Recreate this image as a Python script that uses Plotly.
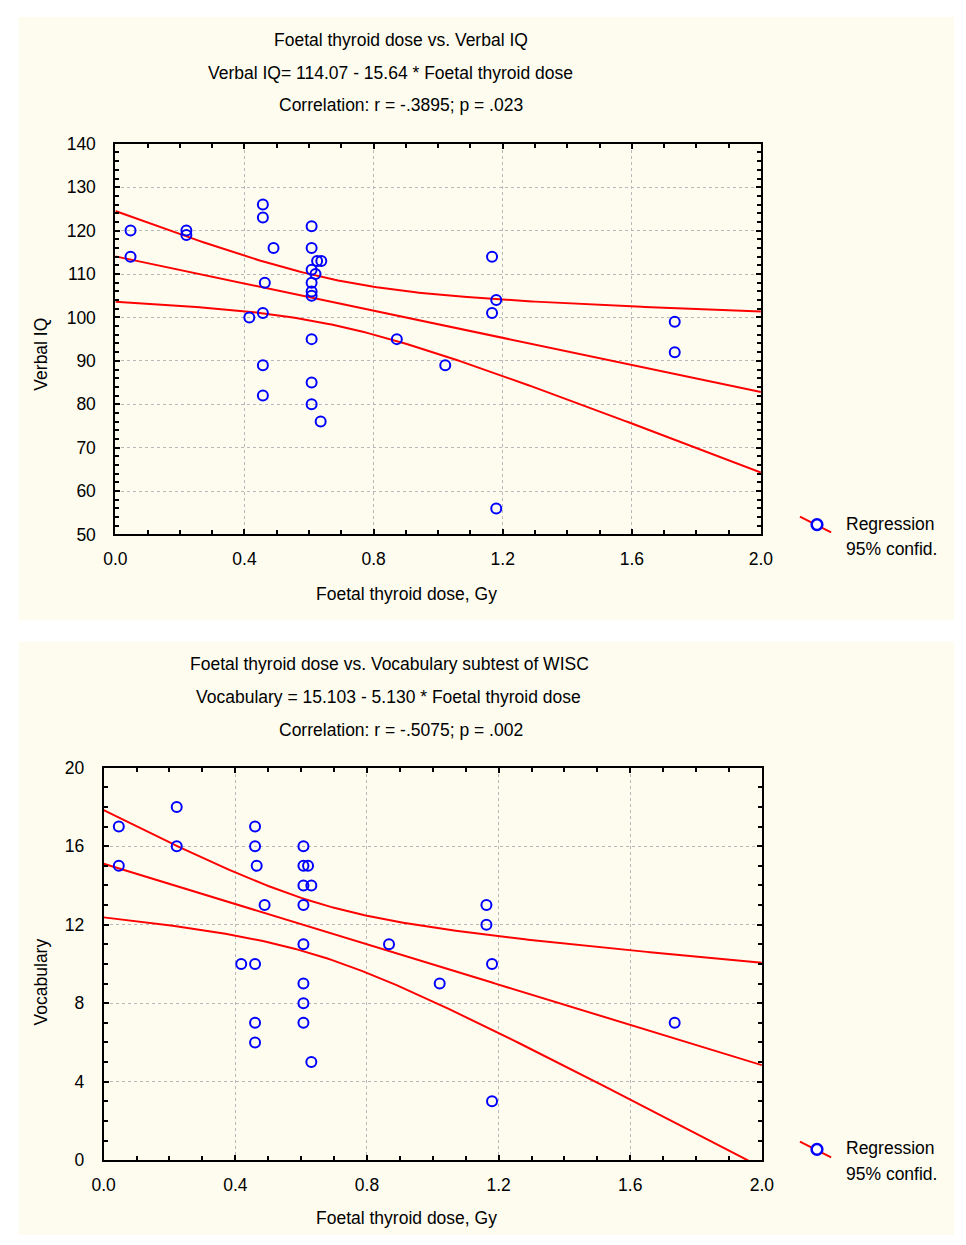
import numpy as np
import plotly.graph_objects as go

# ---------------- data ----------------
dose_iq = [0.047, 0.047, 0.22, 0.22, 0.457, 0.457, 0.49, 0.608, 0.608, 0.625, 0.638,
           0.608, 0.62, 0.608, 0.608, 0.608, 0.463, 0.457, 0.415, 0.608, 0.457, 0.608,
           0.457, 0.608, 0.636, 1.167, 1.18, 1.167, 0.872, 1.022, 1.733, 1.733, 1.18]
verbal_iq = [120, 114, 120, 119, 126, 123, 116, 121, 116, 113, 113,
             111, 110, 108, 106, 105, 108, 101, 100, 95, 89, 85,
             82, 80, 76, 114, 104, 101, 95, 89, 99, 92, 56]

dose_voc = [0.046, 0.046, 0.222, 0.222, 0.46, 0.46, 0.465, 0.489, 0.607, 0.607, 0.621,
            0.607, 0.631, 0.607, 0.607, 0.418, 0.46, 0.607, 0.607, 0.46, 0.607, 0.46,
            0.631, 1.163, 1.163, 1.18, 0.867, 1.021, 1.735, 1.18]
vocabulary = [17, 15, 18, 16, 17, 16, 15, 13, 16, 15, 15,
              14, 14, 13, 11, 10, 10, 9, 8, 7, 7, 6,
              5, 13, 12, 10, 11, 9, 7, 3]

iq_intercept, iq_slope = 114.07, -15.64
voc_intercept, voc_slope = 15.103, -5.130

titles_iq = ["Foetal thyroid dose vs. Verbal IQ",
             "Verbal IQ= 114.07 - 15.64 * Foetal thyroid dose",
             "Correlation: r = -.3895; p = .023"]
titles_voc = ["Foetal thyroid dose vs. Vocabulary subtest of WISC",
              "Vocabulary = 15.103 - 5.130 * Foetal thyroid dose",
              "Correlation: r = -.5075; p = .002"]
x_ticks = [0.0, 0.4, 0.8, 1.2, 1.6, 2.0]
x_ticklabels = ["0.0", "0.4", "0.8", "1.2", "1.6", "2.0"]
iq_ticks = [50, 60, 70, 80, 90, 100, 110, 120, 130, 140]
voc_ticks = [0, 4, 8, 12, 16, 20]

W, H = 966, 1245
CREAM = "#FEFCEF"
RED = "#FF0000"
BLUE = "#0000FF"
FONT = "Liberation Sans, Arial, sans-serif"
FS = 17.5


def conf_band(x, y, b0, b1, xs, tcrit=2.04):
    x = np.asarray(x, float); y = np.asarray(y, float)
    n = len(x)
    resid = y - (b0 + b1 * x)
    s = np.sqrt(np.sum(resid ** 2) / (n - 2))
    xm = x.mean(); sxx = np.sum((x - xm) ** 2)
    fit = b0 + b1 * xs
    hw = tcrit * s * np.sqrt(1.0 / n + (xs - xm) ** 2 / sxx)
    return fit, fit - hw, fit + hw


xs = np.linspace(0, 2, 201)

fig = go.Figure()

panels = [
    dict(x=dose_iq, y=verbal_iq, b=(iq_intercept, iq_slope), xa="x", ya="y"),
    dict(x=dose_voc, y=vocabulary, b=(voc_intercept, voc_slope), xa="x2", ya="y2"),
]
for p in panels:
    fit, lo, hi = conf_band(p["x"], p["y"], p["b"][0], p["b"][1], xs)
    for arr in (hi, fit, lo):
        fig.add_trace(go.Scatter(x=xs, y=arr, mode="lines", line=dict(color=RED, width=2),
                                 xaxis=p["xa"], yaxis=p["ya"], showlegend=False, hoverinfo="skip"))
    fig.add_trace(go.Scatter(x=p["x"], y=p["y"], mode="markers",
                             marker=dict(symbol="circle-open", size=10, color=BLUE,
                                         line=dict(color=BLUE, width=2)),
                             xaxis=p["xa"], yaxis=p["ya"], showlegend=False))


def px(xp):
    return xp / W


def py(yp):
    return 1 - yp / H


axis_common = dict(
    showline=True, linecolor="black", linewidth=2, mirror="ticks",
    ticks="inside", ticklen=5, tickwidth=1.5, tickcolor="black",
    showgrid=True, gridcolor="#B8B8B8", gridwidth=1, griddash="3px,3px",
    zeroline=False, tickfont=dict(family=FONT, size=FS, color="black"),
)

fig.update_layout(
    width=W, height=H, margin=dict(l=0, r=0, t=0, b=0),
    paper_bgcolor="white", plot_bgcolor="white", showlegend=False,
    font=dict(family=FONT, size=FS, color="black"),
    xaxis=dict(axis_common, domain=[px(106), px(768)], range=[0, 2], tickvals=x_ticks,
               ticktext=x_ticklabels, anchor="y", ticklabelstandoff=8,
               minor=dict(dtick=0.1, ticks="inside", ticklen=4, tickcolor="black", showgrid=False)),
    yaxis=dict(axis_common, domain=[py(533), py(136)], range=[50, 140], tickvals=iq_ticks,
               anchor="x", ticklabelstandoff=14,
               minor=dict(dtick=2, ticks="inside", ticklen=4, tickcolor="black", showgrid=False)),
    xaxis2=dict(axis_common, domain=[px(94), px(769)], range=[0, 2], tickvals=x_ticks,
                ticktext=x_ticklabels, anchor="y2", ticklabelstandoff=8,
                minor=dict(dtick=0.1, ticks="inside", ticklen=4, tickcolor="black", showgrid=False)),
    yaxis2=dict(axis_common, domain=[py(1169), py(770)], range=[0, 20], tickvals=voc_ticks,
                anchor="x2", ticklabelstandoff=14,
                minor=dict(dtick=1, ticks="inside", ticklen=4, tickcolor="black", showgrid=False)),
)

shapes = [
    dict(type="rect", xref="paper", yref="paper", x0=px(7), x1=1, y0=py(620), y1=py(7),
         fillcolor=CREAM, line=dict(width=0), layer="below"),
    dict(type="rect", xref="paper", yref="paper", x0=px(7), x1=1, y0=py(1245), y1=py(642),
         fillcolor=CREAM, line=dict(width=0), layer="below"),
]
annotations = []


def text(x, y, s, **kw):
    annotations.append(dict(xref="paper", yref="paper", x=px(x), y=py(y), text=s, showarrow=False,
                            font=dict(family=FONT, size=FS, color="black"), **kw))


for i, t in enumerate(titles_iq):
    text(399 if i != 1 else 388, [30, 64, 97][i], t, xanchor="center", yanchor="middle")
for i, t in enumerate(titles_voc):
    text([387, 386, 399][i], [665, 698, 732][i], t, xanchor="center", yanchor="middle")

text(405, 594, "Foetal thyroid dose, Gy", xanchor="center", yanchor="middle")
text(405, 1228, "Foetal thyroid dose, Gy", xanchor="center", yanchor="middle")
text(30, 350, "Verbal IQ", xanchor="center", yanchor="middle", textangle=-90)
text(30, 988, "Vocabulary", xanchor="center", yanchor="middle", textangle=-90)

# legends
for ly in (523, 1158):
    shapes.append(dict(type="line", xref="paper", yref="paper", x0=px(808), y0=py(ly - 8),
                       x1=px(840), y1=py(ly + 8), line=dict(color=RED, width=2)))
    shapes.append(dict(type="circle", xref="paper", yref="paper", x0=px(820), x1=px(831),
                       y0=py(ly + 5.5), y1=py(ly - 5.5), fillcolor="white",
                       line=dict(color=BLUE, width=2.5)))
    text(853, ly - 1, "Regression", xanchor="left", yanchor="middle")
    text(853, ly + 25, "95% confid.", xanchor="left", yanchor="middle")

fig.update_layout(shapes=shapes, annotations=annotations)
fig.write_html("out.html")

# remove default page margins so the figure sits at (0,0)
with open("out.html", "r", encoding="utf-8") as f:
    html = f.read()
html = html.replace("<head>", "<head><style>html,body{margin:0;padding:0;overflow:hidden;}</style>", 1)
with open("out.html", "w", encoding="utf-8") as f:
    f.write(html)
